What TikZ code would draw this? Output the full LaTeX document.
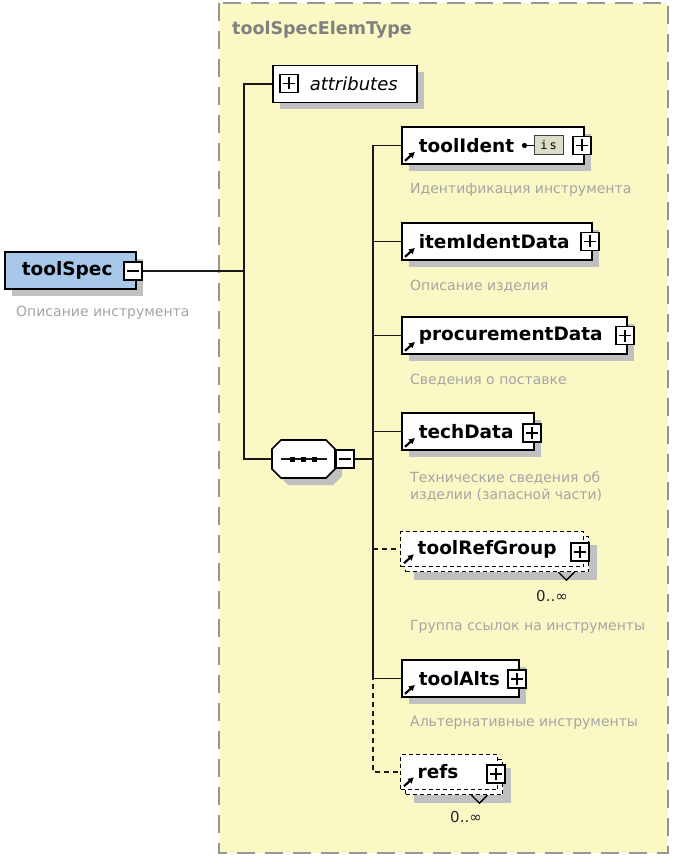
\documentclass[tikz,border=0pt]{standalone}
\usepackage{fontspec}
\setmainfont{DejaVu Sans}
\setmonofont{DejaVu Sans Mono}
\usepackage{tikz}
\usetikzlibrary{positioning, shadows, arrows.meta}

\definecolor{typeyellow}{RGB}{250,248,197}
\definecolor{typeborder}{RGB}{150,150,150}
\definecolor{shadowgray}{RGB}{192,192,192}
\definecolor{descgray}{RGB}{165,165,165}
\definecolor{titlegray}{RGB}{128,128,128}
\definecolor{rootblue}{RGB}{168,200,234}
\definecolor{iconfill}{RGB}{222,222,200}

\begin{document}
\begin{tikzpicture}[
    x=1pt, y=-1pt,
    elem/.style={
        rectangle, draw=black, fill=white, line width=1.6pt,
        anchor=west, minimum height=37, inner xsep=17, inner ysep=0,
        align=left, font=\fontsize{18.5}{20}\selectfont\bfseries,
        drop shadow={shadow xshift=7pt, shadow yshift=-7pt, fill=shadowgray, opacity=1}
    },
    repeated/.style={
        rectangle, draw=black, fill=white, line width=1.4pt,
        dash pattern=on 4pt off 3pt,
        anchor=west, minimum height=35, inner xsep=17, inner ysep=0,
        align=left, font=\fontsize{18.5}{20}\selectfont\bfseries
    },
    plusbox/.style={
        rectangle, draw=black, fill=white, line width=1.3pt,
        minimum size=18, inner sep=0,
        path picture={
            \draw[line width=1.2pt] ([xshift=3pt]path picture bounding box.west) -- ([xshift=-3pt]path picture bounding box.east);
            \draw[line width=1.2pt] ([yshift=-3pt]path picture bounding box.north) -- ([yshift=3pt]path picture bounding box.south);
        }
    },
    minusbox/.style={
        rectangle, draw=black, fill=white, line width=1.3pt,
        minimum size=18, inner sep=0,
        path picture={
            \draw[line width=1.2pt] ([xshift=3pt]path picture bounding box.west) -- ([xshift=-3pt]path picture bounding box.east);
        }
    },
    seqanchor/.style={rectangle, minimum width=63, minimum height=38, inner sep=0},
    seqline/.style={draw=black, fill=white, line width=1.6pt},
    desc/.style={anchor=west, inner sep=0, text=descgray, font=\fontsize{14}{17}\selectfont, align=left},
    title/.style={anchor=west, inner sep=0, text=titlegray, font=\fontsize{17.5}{20}\selectfont\bfseries},
    multiplicity/.style={inner sep=0, text=black!85, font=\fontsize{15}{17}\selectfont},
    simpletype/.style={rectangle, draw=black!75, fill=iconfill, line width=1pt,
        minimum width=29, minimum height=19, inner sep=0, font=\fontsize{12}{12}\selectfont\ttfamily},
    refarrow/.style={-{Latex[length=6pt,width=7pt]}, line width=2.2pt},
    conn/.style={draw=black!90, line width=1.6pt},
    typebox/.style={draw=typeborder, fill=typeyellow, line width=2pt, dash pattern=on 18pt off 10pt}
]

\useasboundingbox (0,0) rectangle (672,858);
\fill[white] (0,0) rectangle (672,858);

% Complex type frame
\draw[typebox] (219,3) rectangle (668,853);
\node[title] (typename) at (232,30) {toolSpecElemType};

% Root element
\node[elem, fill=rootblue, minimum width=131, text width=97] (toolspec) at (4,270.5) {toolSpec};
\node[minusbox] (toolspecminus) at (133,271) {};
\node[desc] at (16,313) {Описание инструмента};

% Attributes
\node[elem, font=\fontsize{18}{20}\selectfont\itshape, inner xsep=13,
      minimum width=144, text width=118] (attributes) at (272,84) {\hspace*{24pt}attributes};
\node[plusbox] (attrplus) at (289,83.5) {};

% Sequence compositor
\fill[shadowgray] (288,447) -- (333,447) -- (342,456) -- (342,476) -- (333,485)
    -- (288,485) -- (279,476) -- (279,456) -- cycle;
\draw[seqline] (281,440) -- (326,440) -- (335,449) -- (335,469) -- (326,478)
    -- (281,478) -- (272,469) -- (272,449) -- cycle;
\node[seqanchor] (sequence) at (303.5,459) {};
\draw[conn] ([xshift=-23pt]sequence.center) -- ([xshift=23pt]sequence.center);
\foreach \dx in {-11,0,11}
    \fill ([xshift=\dx pt]sequence.center) +(-2.5,-2.5) rectangle +(2.5,2.5);
\node[minusbox] (seqminus) at (345,459) {};

% Children of the sequence
\node[elem, minimum width=182, text width=148] (toolident) at (401,145.5) {toolIdent};
\node[simpletype] (tiicon) at (548.5,145.5) {i\,s};
\draw[line width=1.6pt] (tiicon.west) -- ++(-8,0);
\fill ([xshift=-9pt]tiicon.west) circle (2.6);
\node[plusbox] (toolidentplus) at (582,145.5) {};
\node[desc] at (410,190) {Идентификация инструмента};

\node[elem, minimum width=190, text width=156] (itemidentdata) at (401,241.5) {itemIdentData};
\node[plusbox] (itemidentplus) at (590,241.5) {};
\node[desc] at (410,286) {Описание изделия};

\node[elem, minimum width=225, text width=191] (procurementdata) at (401,335.5) {procurementData};
\node[plusbox] (procurementplus) at (625,335.5) {};
\node[desc] at (410,380) {Сведения о поставке};

\node[elem, minimum width=132, text width=98] (techdata) at (401,431.5) {techData};
\node[plusbox] (techplus) at (532,433) {};
\node[desc] at (410,487) {Технические сведения об\\изделии (запасной части)};

\node[repeated, minimum width=183, text width=149,
      drop shadow={shadow xshift=8pt, shadow yshift=-8pt, fill=shadowgray, opacity=1}]
      (toolrefgroupback) at (405,554) {};
\node[repeated, minimum width=183, text width=149] (toolrefgroup) at (400,549) {toolRefGroup};
\node[plusbox] (toolrefplus) at (580,552) {};
\draw[line width=1.3pt] ([xshift=-31pt]toolrefgroupback.south east) -- ++(8,8) -- ++(8,-8);
\node[multiplicity] at (552,596) {0..∞};
\node[desc] at (410,627) {Группа ссылок на инструменты};

\node[elem, minimum width=117, text width=83] (toolalts) at (401,678.5) {toolAlts};
\node[plusbox] (toolaltsplus) at (517,679) {};
\node[desc] at (410,723) {Альтернативные инструменты};

\node[repeated, minimum width=97, text width=63,
      drop shadow={shadow xshift=8pt, shadow yshift=-8pt, fill=shadowgray, opacity=1}]
      (refsback) at (405,777) {};
\node[repeated, minimum width=97, text width=63] (refs) at (400,772) {refs};
\node[plusbox] (refsplus) at (496,774) {};
\draw[line width=1.3pt] ([xshift=-32pt]refsback.south east) -- ++(8,8) -- ++(8,-8);
\node[multiplicity] at (466,817) {0..∞};

% Reference arrows
\foreach \child in {toolident, itemidentdata, procurementdata, techdata, toolrefgroup, toolalts, refs}
    \draw[refarrow] ([xshift=4pt, yshift=4pt]\child.south west) -- ++(10,-9);

% Connectors
\coordinate (rootjoin) at (244,271);
\coordinate (seqjoin) at (373,459);
\draw[conn] (toolspecminus.east) -- (rootjoin);
\draw[conn] (rootjoin) |- (attributes.west);
\draw[conn] (rootjoin) |- (sequence.west);
\draw[conn] (seqminus.east) -- (seqjoin);
\foreach \child in {toolident, itemidentdata, procurementdata, techdata, toolalts}
    \draw[conn] (seqjoin) |- (\child.west);
\foreach \child in {toolrefgroup, refs}
    \draw[conn, dash pattern=on 5pt off 4pt] (seqjoin) |- (\child.west);

\end{tikzpicture}
\end{document}
